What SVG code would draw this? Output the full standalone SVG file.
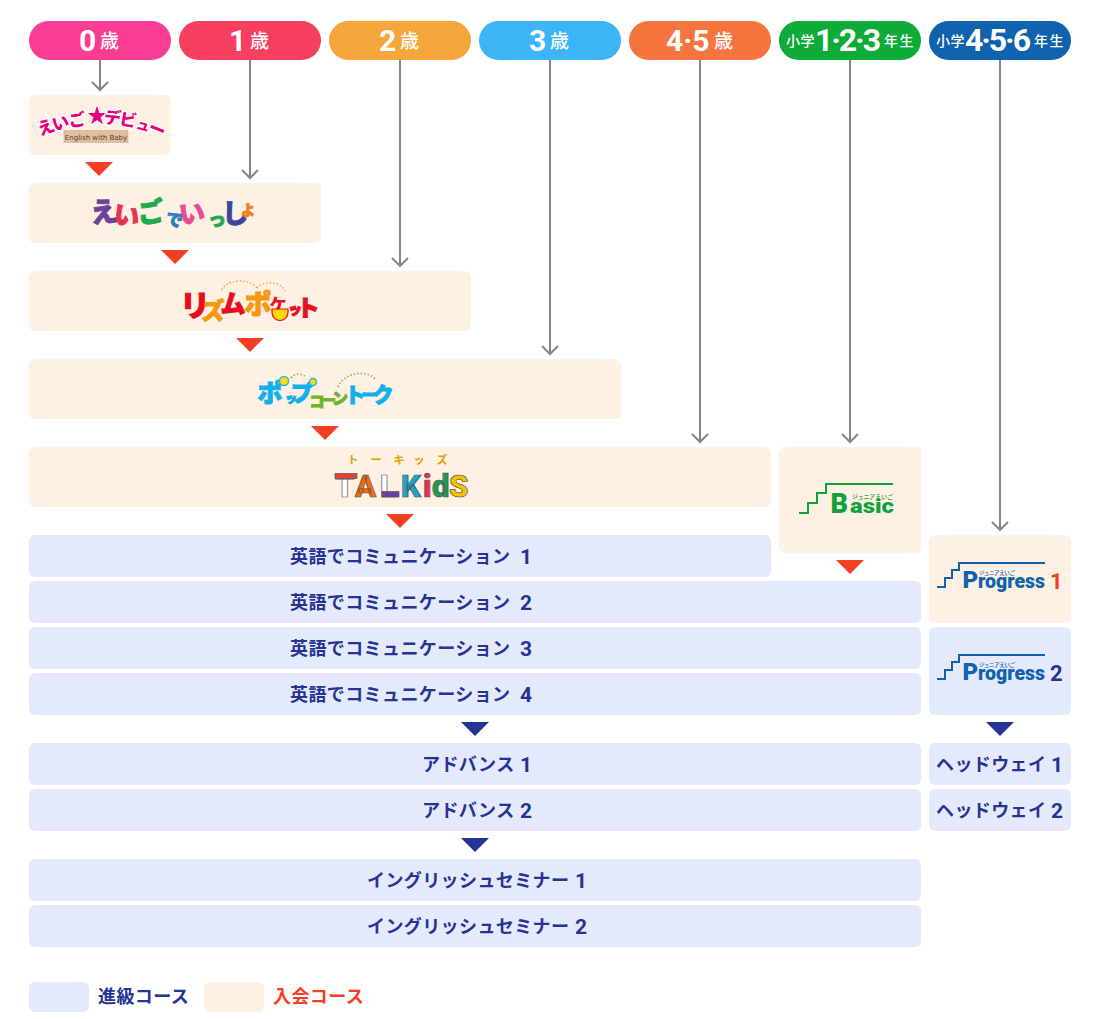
<svg xmlns="http://www.w3.org/2000/svg" width="1100" height="1019" viewBox="0 0 1100 1019">
<style>
text{font-family:"Noto Sans CJK JP","Noto Sans",sans-serif}
.age{font-family:Roboto,"Noto Sans CJK JP",sans-serif;font-weight:700;fill:#fff;font-size:30px}
.age2{font-family:Roboto,"Noto Sans CJK JP",sans-serif;font-weight:700;fill:#fff;font-size:32px}
.unit{font-weight:500;fill:#fff;font-size:19px}
.sm{font-weight:500;fill:#fff;font-size:14px;letter-spacing:.4px}
.e{fill:#fef0e2}
.s{fill:#e4e9fb}
.lb{font-weight:700;fill:#253494;font-size:18px;letter-spacing:.4px}
.lb tspan{font-family:Roboto,sans-serif;font-size:21px;font-weight:700}
.conn{stroke:#868686;stroke-width:2;fill:none}
.g{font-weight:900;text-anchor:middle}
.w{paint-order:stroke;stroke:#fff;stroke-width:2.500px;stroke-linejoin:round}
.r{font-family:Roboto,sans-serif;font-weight:700}
.h{font-family:Roboto,sans-serif;font-weight:900}
.lg{font-size:18px;font-weight:700;letter-spacing:.4px}
</style>
<defs>
<path id="stairsB" d="M799 513H808V503H817V493H826V484H893" fill="none" stroke="#0fa13b" stroke-width="2"/>
<path id="stairsP" d="M937 0H945V-9H952V-17H959V-24H1045" fill="none" stroke="#0f62ab" stroke-width="2"/>
</defs>

<g id="connectors" class="conn">
<path d="M100 60V90"/><path d="M92 82L100 90L108 82"/>
<path d="M250 60V178"/><path d="M242 170L250 178L258 170"/>
<path d="M400 60V266"/><path d="M392 258L400 266L408 258"/>
<path d="M550 60V354"/><path d="M542 346L550 354L558 346"/>
<path d="M700 60V442"/><path d="M692 434L700 442L708 434"/>
<path d="M850 60V442"/><path d="M842 434L850 442L858 434"/>
<path d="M1000 60V530"/><path d="M992 522L1000 530L1008 522"/>
</g>

<g id="age-0"><rect x="29" y="21" width="142" height="39" rx="19.5" fill="#f93d92"/><text class="age" x="79" y="51">0</text><text class="unit" x="100" y="48">歳</text></g>
<g id="age-1"><rect x="179" y="21" width="142" height="39" rx="19.5" fill="#f73f60"/><text class="age" x="229" y="51">1</text><text class="unit" x="250" y="48">歳</text></g>
<g id="age-2"><rect x="329" y="21" width="142" height="39" rx="19.5" fill="#f4a63a"/><text class="age" x="379" y="51">2</text><text class="unit" x="400" y="48">歳</text></g>
<g id="age-3"><rect x="479" y="21" width="142" height="39" rx="19.5" fill="#3bb5f5"/><text class="age" x="529" y="51">3</text><text class="unit" x="550" y="48">歳</text></g>
<g id="age-45"><rect x="629" y="21" width="142" height="39" rx="19.5" fill="#f6743e"/><text class="age" x="666" y="51">4·5</text><text class="unit" x="714" y="48">歳</text></g>
<g id="age-e123"><rect x="779" y="21" width="142" height="39" rx="19.5" fill="#0fab39"/><text class="sm" x="786" y="46">小学</text><text class="age2" x="815" y="51" textLength="66">1·2·3</text><text class="sm" x="884" y="46" style="letter-spacing:1.500px">年生</text></g>
<g id="age-e456"><rect x="929" y="21" width="142" height="39" rx="19.5" fill="#0f62ab"/><text class="sm" x="936" y="46">小学</text><text class="age2" x="965" y="51" textLength="66">4·5·6</text><text class="sm" x="1034" y="46" style="letter-spacing:1.500px">年生</text></g>

<g id="debut"><rect class="e" x="29" y="95" width="142" height="60" rx="6"/>
<g fill="#e4007f" font-size="17">
<text class="g w" transform="translate(48 133) rotate(-20)">え</text>
<text class="g w" transform="translate(62 129) rotate(-14)">い</text>
<text class="g w" transform="translate(78 126) rotate(-8)">ご</text>
<text class="g w" transform="translate(97 123)" font-size="20">★</text>
<text class="g w" transform="translate(112 124) rotate(6)">デ</text>
<text class="g w" transform="translate(127 126) rotate(10)">ビ</text>
<text class="g w" transform="translate(142 130) rotate(16)" font-size="14">ュ</text>
<text class="g w" transform="translate(155 135) rotate(22)">ー</text></g>
<rect x="64" y="130.500" width="64" height="12" fill="#e5bd9b" stroke="#c99a72" stroke-width=".7" stroke-dasharray="1.500 1"/>
<text x="96" y="139.500" font-size="7" font-weight="500" fill="#444" text-anchor="middle" style="font-family:'DejaVu Sans',sans-serif">English with Baby</text></g>

<g id="issyo"><rect class="e" x="29" y="183" width="292" height="60" rx="6"/>
<g class="g" stroke-width=".8">
<text class="g" transform="translate(105 222) rotate(-6)" font-size="28" fill="#6b4199" stroke="#6b4199">え</text>
<text class="g" transform="translate(125 225) rotate(10)" font-size="26" fill="#e8324f" stroke="#e8324f">い</text>
<text class="g" transform="translate(152 222) rotate(-8)" font-size="27" fill="#1faa4d" stroke="#1faa4d">ご</text>
<text class="g" transform="translate(173 226) rotate(12)" font-size="17" fill="#2d7cc4" stroke="#2d7cc4">で</text>
<text class="g" transform="translate(193 223) rotate(-6)" font-size="26" fill="#ea4c94" stroke="#ea4c94">い</text>
<text class="g" transform="translate(217 226)" font-size="18" fill="#1faa4d" stroke="#1faa4d">っ</text>
<text class="g" transform="translate(235 223)" font-size="26" fill="#37479c" stroke="#37479c">し</text>
<text class="g" transform="translate(248 215)" font-size="14" fill="#f47f20" stroke="#f47f20">よ</text></g></g>

<g id="rhythm"><rect class="e" x="29" y="271" width="442" height="60" rx="6"/>
<path d="M222 290C226 279 250 278 257 288M257 288C263 281 280 280 285 291" fill="none" stroke="#f4a63a" stroke-width="1.500" stroke-dasharray="1.500 2"/>
<g>
<text class="g" x="195" y="316" fill="#e60f22" font-size="30" stroke="#e60f22">リ</text>
<text class="g" x="213" y="319" fill="#f39a10" font-size="23" stroke="#f39a10">ズ</text>
<text class="g" x="233" y="313" fill="#e60f22" font-size="25" stroke="#e60f22">ム</text>
<text class="g" x="258" y="314" fill="#f39a10" font-size="27" stroke="#f39a10">ポ</text>
<text class="g" x="278" y="311" fill="#e60f22" font-size="17">ケ</text>
<text class="g" x="295" y="314" fill="#e60f22" font-size="14" stroke="#e60f22">ッ</text>
<text class="g" x="308" y="316" fill="#e60f22" font-size="23" stroke="#e60f22">ト</text></g>
<path d="M272 309H288V312.500A8 8 0 0 1 272 312.500Z" fill="#ffd800" stroke="#e60f22" stroke-width="1.200"/></g>

<g id="popcorn"><rect class="e" x="29" y="359" width="592" height="60" rx="6"/>
<path d="M291 378C295 373 302 373 306 377M338 387C344 372 368 369 376 380" fill="none" stroke="#6fbb3a" stroke-width="1.500" stroke-dasharray="1.500 2"/>
<g>
<text class="g" x="270" y="402" font-size="25" fill="#12b0ea" stroke="#12b0ea">ポ</text>
<text class="g" x="291" y="403" font-size="12" fill="#12b0ea" stroke="#12b0ea">ッ</text>
<text class="g" x="302" y="401" font-size="22" fill="#12b0ea" stroke="#12b0ea">プ</text>
<text class="g" x="317" y="407" font-size="15" fill="#6fb62c" stroke="#6fb62c">コ</text>
<text class="g" x="329" y="405" font-size="14" fill="#6fb62c" stroke="#6fb62c">ー</text>
<text class="g" x="340" y="404" font-size="16" fill="#6fb62c" stroke="#6fb62c">ン</text>
<text class="g" x="355" y="402" font-size="21" fill="#12b0ea" stroke="#12b0ea">ト</text>
<text class="g" x="370" y="401" font-size="17" fill="#12b0ea" stroke="#12b0ea">ー</text>
<text class="g" x="383" y="402" font-size="21" fill="#12b0ea" stroke="#12b0ea">ク</text></g>
<circle cx="284" cy="381" r="4.500" fill="#ffe100" stroke="#2db5ea" stroke-width="1.500"/><circle cx="313" cy="382" r="3.500" fill="#ffe100" stroke="#2db5ea" stroke-width="1.500"/></g>

<g id="talkids"><rect class="e" x="29" y="447" width="742" height="60" rx="6"/>
<g font-weight="700" font-size="11" fill="#e0a000" text-anchor="middle"><text x="353" y="464">ト</text><text x="376" y="464">ー</text><text x="399" y="464">キ</text><text x="419" y="464">ッ</text><text x="442" y="464">ズ</text></g>
<g font-size="31" stroke="#555" stroke-width=".7">
<text class="r" x="335" y="497" fill="#fff" style="font-weight:900">T</text><text class="r" x="355" y="497" fill="#f26a10" style="font-weight:900">A</text><text class="r" x="380" y="497" fill="#fff" style="font-weight:900">L</text><text class="r" x="401" y="497" fill="#19a5c9" style="font-weight:900">K</text><text class="r" x="423" y="497" fill="#e8324f" style="font-weight:900">i</text><text class="r" x="432" y="497" fill="#1d9a55" style="font-weight:900">d</text><text class="r" x="449" y="497" fill="#f5c400" style="font-weight:900">S</text></g>
<rect x="335" y="473.500" width="22" height="5" fill="#e8402a" stroke="#555" stroke-width=".7"/>
<rect x="382" y="491.500" width="17" height="5.500" fill="#6b3fa0" stroke="#555" stroke-width=".7"/></g>

<g id="basic"><rect class="e" x="779" y="447" width="142" height="106" rx="6"/>
<use href="#stairsB"/>
<text class="h" x="830.500" y="513" font-size="27" fill="#0fa13b">B</text>
<text class="h" x="850" y="513" font-size="21" fill="#0fa13b" textLength="44" lengthAdjust="spacingAndGlyphs">asic</text>
<text x="852" y="499" font-size="6" font-weight="500" fill="#0fa13b" textLength="41">ジュニアえいご</text></g>

<g id="progress1"><rect class="e" x="929" y="535" width="142" height="88" rx="6"/>
<use href="#stairsP" y="587"/>
<text class="h" x="962.500" y="588" font-size="24" fill="#0f62ab">P</text>
<text class="h" x="978" y="588" font-size="21" fill="#0f62ab" textLength="67" lengthAdjust="spacingAndGlyphs">rogress</text>
<text x="979" y="575" font-size="5.500" font-weight="500" fill="#0f62ab" textLength="36">ジュニアえいご</text>
<text class="r" x="1050" y="589" font-size="22" fill="#f43d24">1</text></g>

<g id="progress2"><rect class="s" x="929" y="627" width="142" height="88" rx="6"/>
<use href="#stairsP" y="679"/>
<text class="h" x="962.500" y="680" font-size="24" fill="#0f62ab">P</text>
<text class="h" x="978" y="680" font-size="21" fill="#0f62ab" textLength="67" lengthAdjust="spacingAndGlyphs">rogress</text>
<text x="979" y="667" font-size="5.500" font-weight="500" fill="#0f62ab" textLength="36">ジュニアえいご</text>
<text class="r" x="1050" y="681" font-size="22" fill="#253494">2</text></g>

<g id="com1"><rect class="s" x="29" y="535" width="742" height="42" rx="6"/><text class="lb" x="290" y="563">英語でコミュニケーション<tspan x="520" y="564">1</tspan></text></g>
<g id="com2"><rect class="s" x="29" y="581" width="892" height="42" rx="6"/><text class="lb" x="290" y="609">英語でコミュニケーション<tspan x="520" y="610">2</tspan></text></g>
<g id="com3"><rect class="s" x="29" y="627" width="892" height="42" rx="6"/><text class="lb" x="290" y="655">英語でコミュニケーション<tspan x="520" y="656">3</tspan></text></g>
<g id="com4"><rect class="s" x="29" y="673" width="892" height="42" rx="6"/><text class="lb" x="290" y="701">英語でコミュニケーション<tspan x="520" y="702">4</tspan></text></g>
<g id="adv1"><rect class="s" x="29" y="743" width="892" height="42" rx="6"/><text class="lb" x="422" y="771">アドバンス<tspan x="520" y="772">1</tspan></text></g>
<g id="adv2"><rect class="s" x="29" y="789" width="892" height="42" rx="6"/><text class="lb" x="422" y="817">アドバンス<tspan x="520" y="818">2</tspan></text></g>
<g id="eng1"><rect class="s" x="29" y="859" width="892" height="42" rx="6"/><text class="lb" x="367" y="887">イングリッシュセミナー<tspan x="575" y="888">1</tspan></text></g>
<g id="eng2"><rect class="s" x="29" y="905" width="892" height="42" rx="6"/><text class="lb" x="367" y="933">イングリッシュセミナー<tspan x="575" y="934">2</tspan></text></g>
<g id="head1"><rect class="s" x="929" y="743" width="142" height="42" rx="6"/><text class="lb" x="936" y="771">ヘッドウェイ<tspan x="1051" y="772">1</tspan></text></g>
<g id="head2"><rect class="s" x="929" y="789" width="142" height="42" rx="6"/><text class="lb" x="936" y="817">ヘッドウェイ<tspan x="1051" y="818">2</tspan></text></g>

<g id="tri" fill="#f43f24">
<path d="M85 162H113L99 176Z"/><path d="M161 250H189L175 264Z"/><path d="M236 338H264L250 352Z"/><path d="M311 426H339L325 440Z"/><path d="M386 514H414L400 528Z"/><path d="M836 560H864L850 574Z"/>
</g>
<g id="tri-blue" fill="#253494">
<path d="M461 722H489L475 736Z"/><path d="M461 838H489L475 852Z"/><path d="M986 722H1014L1000 736Z"/>
</g>

<g id="legend"><rect class="s" x="29" y="982" width="60" height="30" rx="6"/><text class="lg" x="98" y="1003" fill="#253494">進級コース</text>
<rect class="e" x="204" y="982" width="60" height="30" rx="6"/><text class="lg" x="273" y="1003" fill="#f43f24">入会コース</text></g>
</svg>
